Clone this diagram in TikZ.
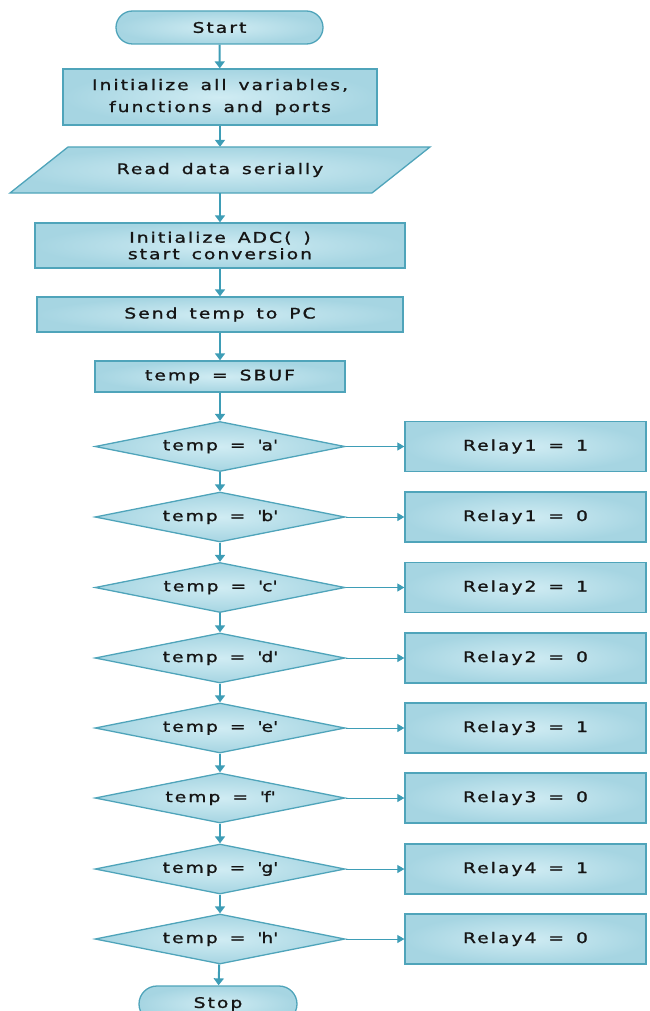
\documentclass[tikz,border=0pt]{standalone}
\usepackage{fontspec}
\setmainfont{DejaVu Sans}[FakeStretch=1.28, LetterSpace=14, WordSpace=1.5, FakeBold=1.2]
\usetikzlibrary{arrows.meta,shapes.geometric,shapes.misc}
\definecolor{boxin}{HTML}{D0ECF3}
\definecolor{boxout}{HTML}{A6D5E2}
\definecolor{boxline}{HTML}{4FA4BA}
\definecolor{arrowc}{HTML}{3E9DB6}
\definecolor{txt}{HTML}{151515}
\begin{document}
\begin{tikzpicture}[x=1pt,y=-1pt,
  shade/.style={inner color=boxin, outer color=boxout},
  base/.style={draw=boxline, shade, line width=1.3pt, inner sep=1pt,
    text=txt, align=center, font=\fontsize{14.6}{22}\selectfont},
  procbox/.style={base, rectangle},
  termbox/.style={base, rounded rectangle},
  decbox/.style={base, diamond, aspect=5, minimum width=250pt, minimum height=50pt},
  relaybox/.style={procbox, minimum width=241pt, minimum height=50pt},
  varrow/.style={draw=arrowc, line width=2pt, -{Triangle[length=7pt,width=10pt]}},
  harrow/.style={draw=arrowc, line width=1pt, -{Triangle[length=7pt,width=8pt]}}
]
\useasboundingbox (0,0) rectangle (649,1011);
\clip (0,0) rectangle (649,1011);

\node[termbox, minimum width=209pt, minimum height=33pt] (start) at (219.5,27.5) {Start};
\node[procbox, minimum width=314pt, minimum height=56pt] (init) at (220,97)
  {Initialize all variables,\\functions and ports};
% parallelogram
\draw[draw=boxline, shade, line width=1.3pt]
  (68,147) -- (430,147) -- (372,193) -- (10,193) -- cycle;
\node[rectangle, inner sep=0pt, minimum width=362pt, minimum height=46pt, text=txt,
  font=\fontsize{14.6}{22}\selectfont] (read) at (220,170) {Read data serially};
\node[procbox, minimum width=370pt, minimum height=45pt, font=\fontsize{14.6}{16.5}\selectfont] (adc) at (220,245.5)
  {Initialize ADC( )\\start conversion};
\node[procbox, minimum width=366pt, minimum height=35pt] (send) at (220,314.5) {Send temp to PC};
\node[procbox, minimum width=250pt, minimum height=31pt] (sbuf) at (220,376.5) {temp = SBUF};

\node[decbox] (da) at (220,446.5) {temp = \textquotesingle a\textquotesingle};
\node[decbox] (db) at (220,517) {temp = \textquotesingle b\textquotesingle};
\node[decbox] (dc) at (220,587.5) {temp = \textquotesingle c\textquotesingle};
\node[decbox] (dd) at (220,658) {temp = \textquotesingle d\textquotesingle};
\node[decbox] (de) at (220,728) {temp = \textquotesingle e\textquotesingle};
\node[decbox] (df) at (220,798) {temp = \textquotesingle f\textquotesingle};
\node[decbox] (dg) at (220,869) {temp = \textquotesingle g\textquotesingle};
\node[decbox] (dh) at (220,939) {temp = \textquotesingle h\textquotesingle};

\node[relaybox] (ra) at (525.5,446.5) {Relay1 = 1};
\node[relaybox] (rb) at (525.5,517) {Relay1 = 0};
\node[relaybox] (rc) at (525.5,587.5) {Relay2 = 1};
\node[relaybox] (rd) at (525.5,658) {Relay2 = 0};
\node[relaybox] (re) at (525.5,728) {Relay3 = 1};
\node[relaybox] (rf) at (525.5,798) {Relay3 = 0};
\node[relaybox] (rg) at (525.5,869) {Relay4 = 1};
\node[relaybox] (rh) at (525.5,939) {Relay4 = 0};

\node[termbox, minimum width=160pt, minimum height=36pt] (stop) at (218,1004) {Stop};

\draw[varrow] (start) -- (init);
\draw[varrow] (init) -- (read);
\draw[varrow] (read) -- (adc);
\draw[varrow] (adc) -- (send);
\draw[varrow] (send) -- (sbuf);
\draw[varrow] (sbuf) -- (da);
\draw[varrow] (da) -- (db);
\draw[varrow] (db) -- (dc);
\draw[varrow] (dc) -- (dd);
\draw[varrow] (dd) -- (de);
\draw[varrow] (de) -- (df);
\draw[varrow] (df) -- (dg);
\draw[varrow] (dg) -- (dh);
\draw[varrow] (dh) -- (stop);

\draw[harrow] (da) -- (ra);
\draw[harrow] (db) -- (rb);
\draw[harrow] (dc) -- (rc);
\draw[harrow] (dd) -- (rd);
\draw[harrow] (de) -- (re);
\draw[harrow] (df) -- (rf);
\draw[harrow] (dg) -- (rg);
\draw[harrow] (dh) -- (rh);
\end{tikzpicture}
\end{document}
